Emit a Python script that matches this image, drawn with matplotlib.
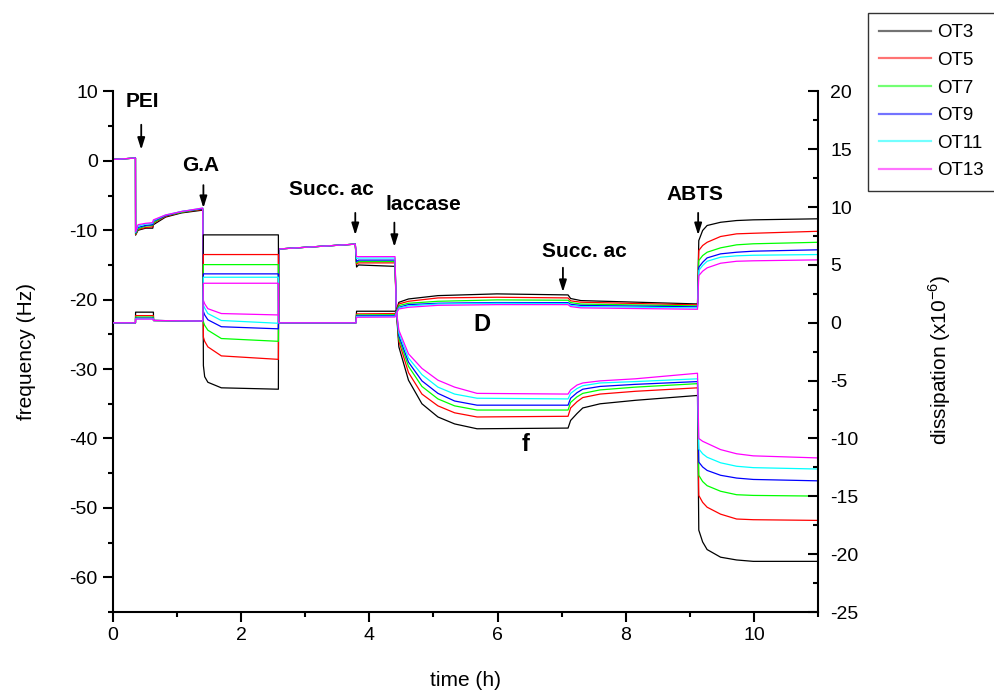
import numpy as np
import matplotlib
matplotlib.use("Agg")
import matplotlib.pyplot as plt
from matplotlib.lines import Line2D
from matplotlib.ticker import MultipleLocator

plt.rcParams["font.family"] = ["Liberation Sans", "DejaVu Sans"]
plt.rcParams["axes.unicode_minus"] = False

# ---------------------------------------------------------------------------
# QCM-D data : frequency shift (Hz) and dissipation (x1e-6), per overtone
# ---------------------------------------------------------------------------
OVERTONES = ["OT3", "OT5", "OT7", "OT9", "OT11", "OT13"]

# time base of the frequency traces (h)
T_FREQ = [0.00, 0.35, 0.352, 0.39, 0.51, 0.62, 0.63, 0.82, 1.07, 1.40,
          1.41, 1.43, 1.48, 1.69, 2.58,
          2.585, 3.78, 3.80, 3.83, 4.40,
          4.42, 4.46, 4.61, 4.82, 5.07, 5.33, 5.68, 7.10,
          7.14, 7.24, 7.33, 7.60, 8.15, 9.12,
          9.14, 9.20, 9.27, 9.48, 9.73, 9.99, 11.0]

FREQ_OT3 = [0.2, 0.4, -10.7, -10.0, -9.7, -9.7, -9.2, -8.1, -7.5, -7.1,
            -29.5, -31.1, -31.9, -32.7, -32.9,
            -12.7, -12.0, -15.3, -15.0, -15.2,
            -21.5, -26.8, -31.6, -35.0, -36.9, -37.9, -38.6, -38.5,
            -37.4, -36.4, -35.6, -35.0, -34.5, -33.8,
            -53.2, -54.9, -56.0, -57.1, -57.5, -57.7, -57.7]
FREQ_OT5 = [0.2, 0.4, -10.6, -9.9, -9.6, -9.5, -9.0, -8.0, -7.4, -7.0,
            -25.4, -26.0, -26.8, -28.1, -28.6,
            -12.7, -12.0, -14.9, -14.7, -14.7,
            -21.5, -26.0, -30.5, -33.6, -35.3, -36.3, -36.9, -36.8,
            -35.6, -34.7, -34.1, -33.6, -33.2, -32.7,
            -48.2, -49.2, -49.9, -50.9, -51.6, -51.7, -51.8]
FREQ_OT7 = [0.2, 0.4, -10.5, -9.8, -9.4, -9.3, -8.9, -7.9, -7.4, -6.9,
            -23.2, -23.7, -24.4, -25.6, -26.0,
            -12.7, -12.0, -14.7, -14.5, -14.5,
            -21.5, -25.6, -29.6, -32.5, -34.3, -35.3, -35.9, -35.9,
            -34.8, -34.0, -33.5, -33.0, -32.6, -32.1,
            -45.3, -46.2, -46.8, -47.6, -48.1, -48.2, -48.3]
FREQ_OT9 = [0.2, 0.4, -10.4, -9.6, -9.3, -9.2, -8.7, -7.9, -7.3, -6.9,
            -21.7, -22.2, -22.9, -23.9, -24.2,
            -12.7, -12.0, -14.5, -14.3, -14.3,
            -21.5, -25.2, -29.0, -31.7, -33.5, -34.6, -35.2, -35.2,
            -34.2, -33.4, -32.9, -32.5, -32.2, -31.8,
            -43.4, -44.1, -44.6, -45.3, -45.7, -45.9, -46.1]
FREQ_OT11 = [0.2, 0.4, -10.3, -9.4, -9.1, -9.0, -8.6, -7.8, -7.3, -6.8,
             -20.8, -21.2, -22.0, -23.0, -23.4,
             -12.7, -12.0, -14.1, -14.0, -14.0,
             -21.5, -24.8, -28.4, -30.8, -32.6, -33.6, -34.2, -34.3,
             -33.5, -32.8, -32.4, -32.0, -31.8, -31.4,
             -41.5, -42.2, -42.7, -43.5, -44.0, -44.2, -44.4]
FREQ_OT13 = [0.2, 0.4, -10.2, -9.2, -9.0, -8.9, -8.5, -7.8, -7.3, -6.8,
             -20.1, -20.6, -21.3, -22.0, -22.2,
             -12.7, -12.0, -13.8, -13.8, -13.8,
             -21.5, -24.4, -27.8, -29.9, -31.6, -32.6, -33.5, -33.6,
             -33.0, -32.3, -32.0, -31.7, -31.4, -30.6,
             -40.0, -40.4, -40.7, -41.6, -42.2, -42.5, -42.8]

# time base of the dissipation traces (h)
T_DISS = [0.0, 0.35, 0.352, 0.63, 0.632, 1.40,
          1.41, 2.58,
          2.585, 3.79, 3.80, 4.40,
          4.42, 4.46, 4.61, 5.07, 5.99, 7.10,
          7.14, 7.30, 9.12,
          9.14, 9.20, 9.27, 9.48, 9.73, 9.99, 11.0]

DISS_OT3 = [0.0, 0.0, 0.92, 0.92, 0.2, 0.15,
            7.60, 7.60,
            0.0, 0.0, 1.0, 1.0,
            1.06, 1.77, 2.06, 2.35, 2.50, 2.41,
            2.10, 1.92, 1.63,
            7.11, 7.98, 8.41, 8.69, 8.84, 8.90, 8.99]
DISS_OT5 = [0.0, 0.0, 0.62, 0.62, 0.2, 0.15,
            5.90, 5.90,
            0.0, 0.0, 0.77, 0.80,
            1.00, 1.63, 1.86, 2.15, 2.21, 2.15,
            1.90, 1.78, 1.55,
            6.25, 6.68, 6.96, 7.46, 7.69, 7.74, 7.91]
DISS_OT7 = [0.0, 0.0, 0.50, 0.50, 0.2, 0.15,
            5.03, 5.03,
            0.0, 0.0, 0.68, 0.70,
            0.95, 1.49, 1.69, 1.86, 1.98, 1.95,
            1.75, 1.62, 1.46,
            5.38, 5.81, 6.10, 6.48, 6.74, 6.83, 6.96]
DISS_OT9 = [0.0, 0.0, 0.40, 0.40, 0.2, 0.15,
            4.23, 4.23,
            0.0, 0.0, 0.60, 0.62,
            0.90, 1.34, 1.57, 1.69, 1.75, 1.74,
            1.60, 1.50, 1.38,
            4.80, 5.23, 5.61, 5.96, 6.10, 6.19, 6.31]
DISS_OT11 = [0.0, 0.0, 0.35, 0.35, 0.2, 0.15,
             3.94, 3.94,
             0.0, 0.0, 0.54, 0.56,
             0.85, 1.29, 1.46, 1.63, 1.69, 1.66,
             1.50, 1.40, 1.29,
             4.52, 4.95, 5.32, 5.67, 5.79, 5.84, 5.90]
DISS_OT13 = [0.0, 0.0, 0.32, 0.32, 0.2, 0.15,
             3.42, 3.42,
             0.0, 0.0, 0.48, 0.50,
             0.80, 1.20, 1.34, 1.51, 1.57, 1.57,
             1.40, 1.29, 1.17,
             4.08, 4.46, 4.75, 5.15, 5.32, 5.36, 5.44]

# injection steps
EVENTS = ["PEI", "G.A", "Succ. ac", "laccase", "Succ. ac", "ABTS"]
EVENT_T = [0.44, 1.41, 3.78, 4.39, 7.02, 9.13]

FREQS = [FREQ_OT3, FREQ_OT5, FREQ_OT7, FREQ_OT9, FREQ_OT11, FREQ_OT13]
DISSES = [DISS_OT3, DISS_OT5, DISS_OT7, DISS_OT9, DISS_OT11, DISS_OT13]
COLORS = ["#000000", "#ff0000", "#00ff00", "#0000ff", "#00ffff", "#ff00ff"]

fig = plt.figure(figsize=(9.95, 6.9), dpi=100)
ax = fig.add_axes([0.1136, 0.1130, 0.7085, 0.7545])
ax2 = ax.twinx()

for f, d, c in zip(FREQS, DISSES, COLORS):
    ax.plot(T_FREQ, f, color=c, lw=0.9)
    ax2.plot(T_DISS, d, color=c, lw=0.9)

ax.set_xlim(0, 11)
ax.set_ylim(-65, 10)
ax2.set_ylim(-25, 20)

ax.xaxis.set_major_locator(MultipleLocator(2))
ax.xaxis.set_minor_locator(MultipleLocator(1))
ax.yaxis.set_major_locator(MultipleLocator(10))
ax.yaxis.set_minor_locator(MultipleLocator(5))
ax2.yaxis.set_major_locator(MultipleLocator(5))
ax2.yaxis.set_minor_locator(MultipleLocator(2.5))

for a in (ax, ax2):
    a.spines["top"].set_visible(False)
    for s in a.spines.values():
        s.set_linewidth(1.5)
ax.spines["right"].set_visible(False)
ax2.spines["left"].set_visible(False)
ax2.spines["bottom"].set_visible(False)

ax.tick_params(which="major", direction="out", length=7, width=1.5,
               labelsize=14, pad=4)
ax.tick_params(which="minor", direction="out", length=3.5, width=1.5)
ax2.tick_params(which="major", direction="in", length=7, width=1.5,
                labelsize=14, pad=9)
ax2.tick_params(which="minor", direction="in", length=3.5, width=1.5)

# keep the -65 end of the left scale unlabeled
ax.set_yticks(np.arange(-60, 11, 10))

ax.set_xlabel("time (h)", fontsize=15, labelpad=19)
ax.set_ylabel("frequency (Hz)", fontsize=15, labelpad=24)
ax2.set_ylabel(r"dissipation (x10$^{\mathregular{-6}}$)", fontsize=15)
ax2.yaxis.set_label_coords(1.172, 0.485)
ax2.yaxis.label.set_va("center")

# injection annotations: (text x, text y, arrow tail y, arrow tip y) in data units
label_pos = [(0.458, 8.5, 5.2, 1.6),
             (1.36, -0.6, -3.5, -6.8),
             (3.41, -4.2, -7.5, -10.7),
             (4.84, -6.3, -8.9, -12.4),
             (7.35, -13.1, -15.4, -18.9),
             (9.08, -4.9, -7.5, -10.7)]
for name, t, (tx, ty, y0, y1) in zip(EVENTS, EVENT_T, label_pos):
    ax.text(tx, ty, name, ha="center", va="center", fontsize=15,
            fontweight="bold")
    ax.annotate("", xy=(t, y1), xytext=(t, y0),
                arrowprops=dict(arrowstyle="-|>,head_length=0.7,head_width=0.22",
                                color="black", lw=1.3, shrinkA=0, shrinkB=0))

ax.text(5.76, -23.6, "D", ha="center", va="center", fontsize=17,
        fontweight="bold")
ax.text(6.43, -40.8, "f", ha="center", va="center", fontsize=17,
        fontweight="bold")

handles = [Line2D([], [], color=c, lw=1.6, alpha=0.55) for c in COLORS]
leg = fig.legend(handles, OVERTONES, loc="upper left",
                 bbox_to_anchor=(0.8724, 0.9812), fontsize=13.5,
                 frameon=True, fancybox=False, borderaxespad=0,
                 borderpad=0.6, handlelength=2.75, handletextpad=0.35,
                 labelspacing=0.56)
leg.get_frame().set_edgecolor("black")
leg.get_frame().set_linewidth(1.0)

fig.savefig("out.png", dpi=100)
